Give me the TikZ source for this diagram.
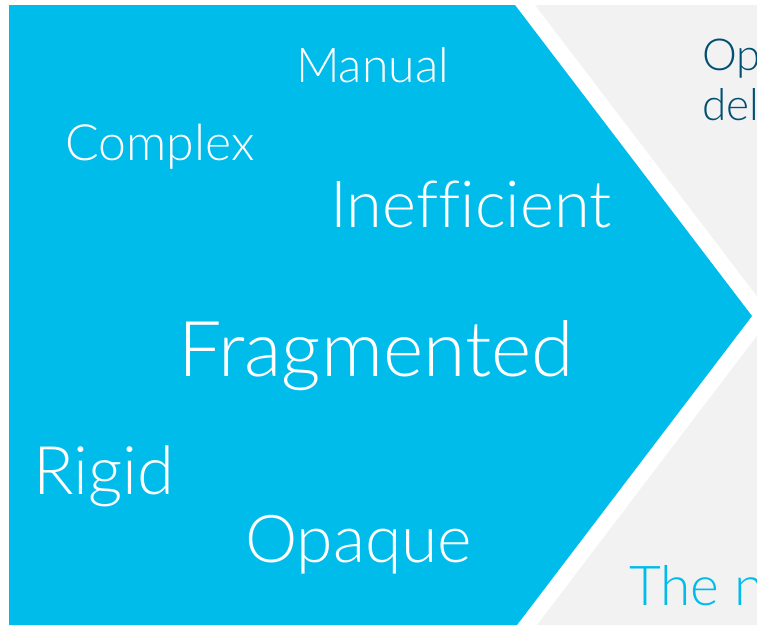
\documentclass[tikz,border=0pt]{standalone}
\usepackage{fontspec}
\setmainfont{Lato Light}[Ligatures=NoCommon]
\usetikzlibrary{positioning}
\definecolor{ciscoblue}{HTML}{00BCEB}
\definecolor{darkteal}{HTML}{005073}
\definecolor{panelgrey}{HTML}{F2F2F2}

\begin{document}
\begin{tikzpicture}[x=1pt, y=-1pt]
        \useasboundingbox (0,0) rectangle (757,625);

        % Panels
        \fill[panelgrey] (535,5) -- (757,5) -- (757,625) -- (537,625) -- (772,316) -- cycle;
        \fill[ciscoblue] (9,5) -- (515,5) -- (752,316) -- (517,625) -- (9,625) -- cycle;

        \tikzstyle{every node}=[inner sep=0pt, anchor=base west, text=white]

        % Words
        \node[font=\fontsize{48}{48}\selectfont] (manual) at (296,82) {Manual};
        \node[font=\fontsize{50}{50}\selectfont] (complex) at (65,160) {Complex};
        \node[font=\fontsize{65}{65}\selectfont] (inefficient) at (330,227) {Inefficient};
        \node[font=\fontsize{77}{77}\selectfont] (fragmented) at (178,376) {Fragmented};
        \node[font=\fontsize{67}{67}\selectfont] (rigid) at (33,494) {Rigid};
        \node[font=\fontsize{66}{66}\selectfont] (opaque) at (245,562) {Opaque};

        % Right panel
        \tikzstyle{every node}=[inner sep=0pt, anchor=base west]

        \node[text=darkteal, font=\fontsize{44}{44}\selectfont] (op) at (702,70) {Op};
        \node[text=darkteal, font=\fontsize{44}{44}\selectfont] (del) at (702,120) {del};
        \node[text=ciscoblue, font=\fontsize{55}{55}\selectfont] (then) at (629,605) {The n};

\end{tikzpicture}
\end{document}
